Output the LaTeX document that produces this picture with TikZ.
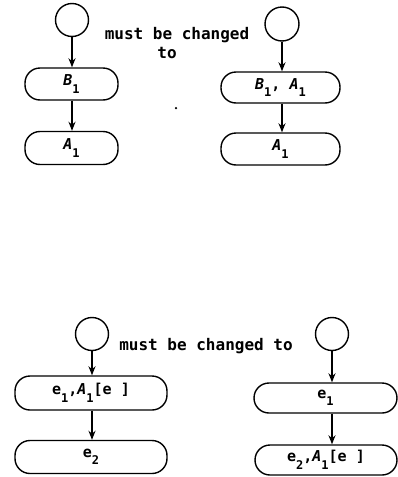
\documentclass[tikz,border=0pt]{standalone}
\usepackage{fontspec}
\setmainfont{DejaVu Sans Mono}
\usetikzlibrary{arrows.meta}
\newcommand{\lsub}[1]{\raisebox{-0.5em}{\fontsize{12}{12}\selectfont #1}}
\newcommand{\vA}{\textit{A}}
\newcommand{\vB}{\textit{B}}
\begin{document}
\begin{tikzpicture}[x=1pt,y=-1pt,
  line width=1.4pt,
  startc/.style={draw,circle,minimum size=33pt,inner sep=0pt},
  stad/.style={draw,rectangle,rounded corners=15pt,inner sep=0pt,
    font=\bfseries\fontsize{15}{15}\selectfont},
  txt/.style={font=\bfseries\fontsize{16}{16}\selectfont,inner sep=0pt},
  arr/.style={-{Stealth[length=9pt,width=7pt]},line width=1.5pt},
  speck/.style={fill,circle,inner sep=0pt,minimum size=2.5pt}]
\useasboundingbox (0,0) rectangle (398,477);
% top left
\node[startc] (c1) at (72,20) {};
\node[stad,minimum width=93pt,minimum height=32pt] (b1) at (71.5,84) {\vB\lsub{1}};
\node[stad,minimum width=93pt,minimum height=33pt] (a1) at (71.5,148) {\vA\lsub{1}};
\draw[arr] (c1.south) -- (c1.south |- b1.north);
\draw[arr] (c1.south |- b1.south) -- (c1.south |- a1.north);
% text
\node[txt] (t1) at (177,35) {must be changed};
\node[txt] (t2) at (167,53) {to};
\node[speck] (sp) at (176,108) {};
% top right
\node[startc,minimum size=34pt] (c2) at (282,24) {};
\node[stad,minimum width=119pt,minimum height=31pt] (b2) at (280.5,87.5) {\vB\lsub{1}, \vA\lsub{1}};
\node[stad,minimum width=119pt,minimum height=32pt] (a2) at (280.5,149) {\vA\lsub{1}};
\draw[arr] (c2.south) -- (c2.south |- b2.north);
\draw[arr] (c2.south |- b2.south) -- (c2.south |- a2.north);
% bottom left
\node[startc] (c3) at (92,334) {};
\node[stad,minimum width=152pt,minimum height=34pt] (b3) at (91,393) {e\lsub{1},\vA\lsub{1}[e ]};
\node[stad,minimum width=152pt,minimum height=33pt] (a3) at (91,457) {e\lsub{2}};
\draw[arr] (c3.south) -- (c3.south |- b3.north);
\draw[arr] (c3.south |- b3.south) -- (c3.south |- a3.north);
\node[txt] (t3) at (206,346) {must be changed to};
% bottom right
\node[startc] (c4) at (332,334) {};
\node[stad,minimum width=143pt,minimum height=30pt] (b4) at (325.5,398) {e\lsub{1}};
\node[stad,minimum width=142pt,minimum height=30pt] (a4) at (326,460) {e\lsub{2},\vA\lsub{1}[e ]};
\draw[arr] (c4.south) -- (c4.south |- b4.north);
\draw[arr] (c4.south |- b4.south) -- (c4.south |- a4.north);
\end{tikzpicture}
\end{document}
